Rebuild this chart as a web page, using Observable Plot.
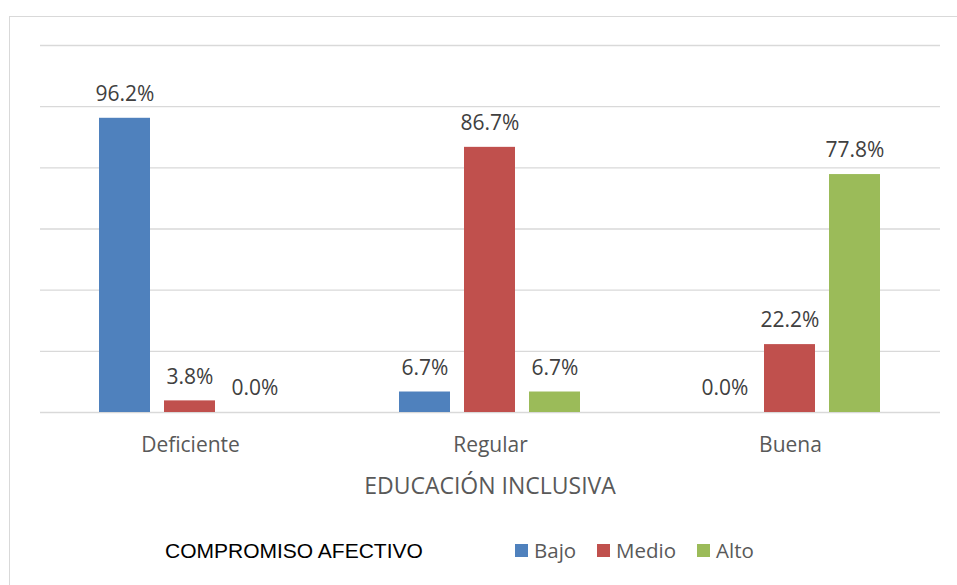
<!DOCTYPE html>
<html>
<head>
<meta charset="utf-8">
<script src="https://cdn.jsdelivr.net/npm/d3@7"></script>
<script src="https://cdn.jsdelivr.net/npm/@observablehq/plot@0.6"></script>
<style>
  html, body { margin: 0; padding: 0; background: #fff; width: 957px; height: 585px; overflow: hidden; }
  #frame { position: absolute; left: 9px; top: 16px; width: 1000px; height: 1000px; border: 1px solid #d9d9d9; box-sizing: border-box; }
  #chart { position: absolute; left: 0; top: 0; }
  #xtitle { position: absolute; left: 39px; width: 902px; top: 469px; text-align: center; font-family: "Open Sans", sans-serif; font-size: 23px; line-height: 32px; color: #595959; }
  #legend { position: absolute; left: 0; top: 536px; width: 957px; height: 30px; font-family: "Open Sans", sans-serif; font-size: 20.5px; color: #595959; }
  #legend .title { position: absolute; left: 165px; top: 2px; line-height: 26px; font-family: "Liberation Sans", Arial, sans-serif; font-size: 21px; color: #000; }
  #legend .item { position: absolute; top: 0; display: flex; align-items: center; height: 28px; }
  #legend .sw { width: 13px; height: 13px; margin-right: 6px; }
</style>
</head>
<body>
<div id="frame"></div>
<div id="chart"></div>
<div id="xtitle"></div>
<div id="legend"></div>
<script>
const categories = ["Deficiente", "Regular", "Buena"];
const series = ["Bajo", "Medio", "Alto"];
const bajo = [96.2, 6.7, 0.0];
const medio = [3.8, 86.7, 22.2];
const alto = [0.0, 6.7, 77.8];
const yTicks = [0, 20, 40, 60, 80, 100, 120];
const colors = ["#4F81BD", "#C0504D", "#9BBB59"];
const xTitle = "EDUCACIÓN INCLUSIVA";
const legendTitle = "COMPROMISO AFECTIVO";

const seriesValues = [bajo, medio, alto];
const data = categories.flatMap((c, i) =>
  series.map((s, j) => ({ cat: c, ser: s, value: seriesValues[j][i] }))
);

const chart = Plot.plot({
  width: 957,
  height: 500,
  marginTop: 45,
  marginBottom: 88,
  marginLeft: 39,
  marginRight: 16,
  style: { fontFamily: "Open Sans, sans-serif", background: "transparent", overflow: "visible" },
  fx: { domain: categories, padding: 0, label: null },
  x: { domain: series, paddingInner: 0.21, paddingOuter: 0.88, axis: null },
  y: { domain: [0, 120], axis: null },
  color: { domain: series, range: colors },
  marks: [
    Plot.ruleY(yTicks, { stroke: "#d9d9d9", strokeWidth: 1.3 }),
    Plot.barY(data, { fx: "cat", x: "ser", y: "value", fill: "ser" }),
    Plot.text(data, {
      fx: "cat", x: "ser", y: "value",
      text: d => d.value.toFixed(1) + "%",
      dy: -24, fontSize: 21, fill: "#404040", lineAnchor: "middle"
    }),
    Plot.axisFx({ anchor: "bottom", tickSize: 0, tickPadding: 25, fontSize: 21, color: "#595959", label: null })
  ]
});
document.getElementById("chart").appendChild(chart);

document.getElementById("xtitle").textContent = xTitle;

const legend = document.getElementById("legend");
const t = document.createElement("div");
t.className = "title";
t.textContent = legendTitle;
legend.appendChild(t);
const lefts = [515, 597, 697];
series.forEach((s, i) => {
  const it = document.createElement("div");
  it.className = "item";
  it.style.left = lefts[i] + "px";
  const sw = document.createElement("div");
  sw.className = "sw";
  sw.style.background = colors[i];
  const lb = document.createElement("span");
  lb.textContent = s;
  it.appendChild(sw);
  it.appendChild(lb);
  legend.appendChild(it);
});
</script>
</body>
</html>
